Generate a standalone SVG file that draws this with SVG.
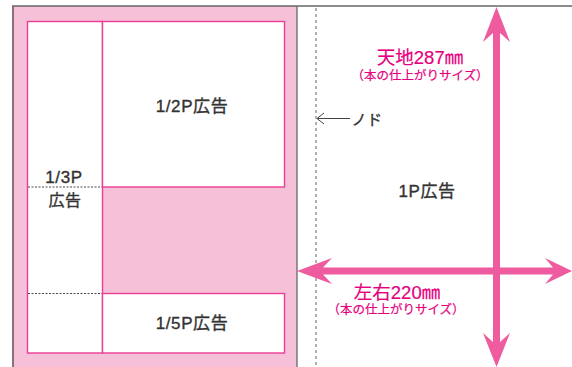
<svg xmlns="http://www.w3.org/2000/svg" width="572" height="367" viewBox="0 0 572 367">
<defs>
<style>
.box{fill:#fff;stroke:#ec3c93;stroke-width:1.4}
.lbl{font-family:"Liberation Sans","Noto Sans CJK JP",sans-serif;font-weight:normal;fill:#333;stroke:#333;stroke-width:0.35;text-anchor:middle;letter-spacing:0.6px}
.pk{font-family:"Liberation Sans","Noto Sans CJK JP",sans-serif;fill:#e6007e;stroke:#e6007e;stroke-width:0.2;text-anchor:middle}
.arr{fill:#ef5b9f}
.dash{stroke:#333;stroke-width:0.9;stroke-dasharray:2 1.5;fill:none}
</style>
</defs>
<rect x="0" y="0" width="572" height="367" fill="#fff"/>
<g id="left-page">
<rect x="13" y="6" width="284" height="362" fill="#f6c0d8"/>
<line x1="13" y1="6" x2="13" y2="367" stroke="#8b6f7a" stroke-width="2"/>
<line x1="297" y1="6" x2="297" y2="367" stroke="#777" stroke-width="1.5"/>
</g>
<line x1="12" y1="6" x2="572" y2="6" stroke="#666" stroke-width="1.5"/>
<g id="ad-1-3">
<rect class="box" x="27.5" y="21.5" width="75" height="331.5"/>
<line class="dash" x1="28" y1="187" x2="102" y2="187"/>
<line class="dash" x1="28" y1="293.5" x2="102" y2="293.5"/>
<text class="lbl" x="64" y="183" font-size="17">1/3P</text>
<text class="lbl" x="65" y="206" font-size="16">広告</text>
</g>
<g id="ad-1-2">
<rect class="box" x="102.5" y="21.5" width="182" height="165.5"/>
<text class="lbl" x="192" y="112" font-size="17">1/2P広告</text>
</g>
<g id="ad-1-5">
<rect class="box" x="102.5" y="293.5" width="182" height="59.5"/>
<text class="lbl" x="192" y="329" font-size="17">1/5P広告</text>
</g>
<g id="gutter">
<line x1="316" y1="8" x2="316" y2="367" stroke="#888" stroke-width="1.3" stroke-dasharray="3 3"/>
<text class="lbl" x="367" y="125" font-size="15">ノド</text>
</g>
<g id="ad-1p">
<text class="lbl" x="427" y="197" font-size="17">1P広告</text>
</g>
<g id="connectors">
<path d="M350,118.5 L317,118.5 M324,113 L317,118.5 L324,124" fill="none" stroke="#444" stroke-width="1"/>
<path class="arr" d="M496.5,7 L510,42 L500,33 L500,342 L510,333 L496.5,367 L483,333 L493,342 L493,33 L483,42 Z"/>
<path class="arr" d="M297,271 L332,258 L323,267.5 L553,267.5 L545,258 L572,271 L545,284 L553,274.5 L323,274.5 L332,284 Z"/>
</g>
<g id="dim-labels">
<text class="pk" x="420" y="64" font-size="18.5">天地287㎜</text>
<text class="pk" x="420" y="80" font-size="12.5">（本の仕上がりサイズ）</text>
<text class="pk" x="397" y="299" font-size="18.5">左右220㎜</text>
<text class="pk" x="396" y="314" font-size="12.5">（本の仕上がりサイズ）</text>
</g>
</svg>
